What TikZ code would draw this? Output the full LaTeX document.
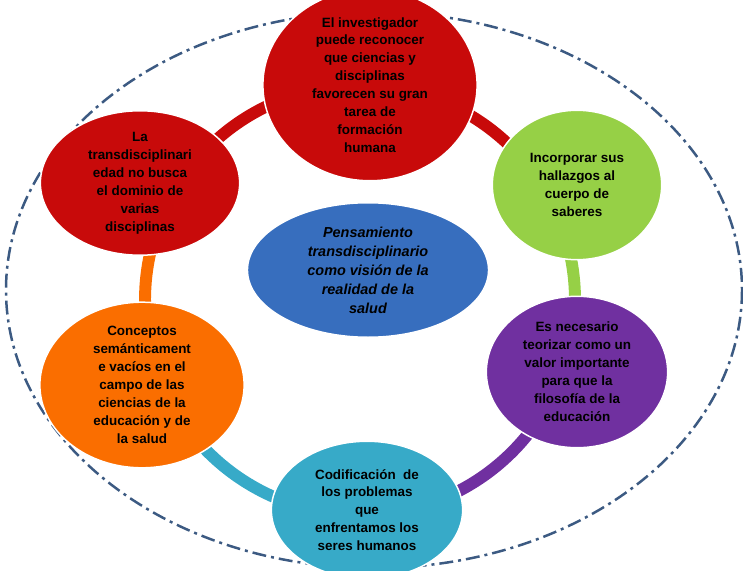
\documentclass[tikz,border=0pt]{standalone}
\usepackage{fontspec}
\setmainfont{Liberation Sans}
\usetikzlibrary{shapes.geometric}
\definecolor{rojo}{RGB}{200,10,10}
\definecolor{verde}{RGB}{150,208,70}
\definecolor{morado}{RGB}{112,48,160}
\definecolor{turquesa}{RGB}{55,170,200}
\definecolor{naranja}{RGB}{250,110,0}
\definecolor{azul}{RGB}{55,110,190}
\definecolor{marco}{RGB}{60,90,130}
\tikzset{
  burbuja/.style={ellipse, draw=white, line width=1.5pt, inner sep=0pt, align=center,
    font=\fontsize{13.5}{18}\selectfont\bfseries},
}
\begin{document}
\begin{tikzpicture}[x=1bp,y=-1bp]
        \useasboundingbox (0,0) rectangle (743,571);
        \draw[marco, line width=2.5pt, dash pattern=on 14pt off 5pt on 3pt off 5pt] (374,290) ellipse[x radius=368, y radius=278];
        \coordinate (c) at (360,300);
        \draw[rojo, line width=12pt] (c) ++(-152:215) arc[start angle=-152, end angle=-28, radius=215];
        \draw[verde, line width=12pt] (c) ++(-28:215) arc[start angle=-28, end angle=18, radius=215];
        \draw[morado, line width=12pt] (c) ++(18:215) arc[start angle=18, end angle=88, radius=215];
        \draw[turquesa, line width=12pt] (c) ++(88:215) arc[start angle=88, end angle=159, radius=215];
        \draw[naranja, line width=12pt] (c) ++(159:215) arc[start angle=159, end angle=208, radius=215];
        \node[burbuja, fill=rojo, minimum width=215, minimum height=160] (investigador) at (370,85)
          {El investigador\\puede reconocer\\que ciencias y\\disciplinas\\favorecen su gran\\tarea de\\formación\\humana};
        \node[burbuja, fill=verde, minimum width=170, minimum height=150] (hallazgos) at (577,185)
          {Incorporar sus\\hallazgos al\\cuerpo de\\saberes};
        \node[burbuja, fill=morado, minimum width=182, minimum height=152] (teorizar) at (577,372)
          {Es necesario\\teorizar como un\\valor importante\\para que la\\filosofía de la\\educación};
        \node[burbuja, fill=turquesa, minimum width=192, minimum height=138] (codificacion) at (367,510)
          {Codificación\ \ de\\los problemas\\que\\enfrentamos los\\seres humanos};
        \node[burbuja, fill=naranja, minimum width=205, minimum height=152] (conceptos) at (142,385)
          {Conceptos\\semánticament\\e vacíos en el\\campo de las\\ciencias de la\\educación y de\\la salud};
        \node[burbuja, fill=rojo, minimum width=200, minimum height=145] (transdisciplina) at (140,183)
          {La\\transdisciplinari\\edad no busca\\el dominio de\\varias\\disciplinas};
        \node[burbuja, fill=azul, minimum width=242, minimum height=135, font=\fontsize{14.5}{19}\selectfont\bfseries\itshape] (pensamiento) at (368,270)
          {Pensamiento\\transdisciplinario\\como visión de la\\realidad de la\\salud};
\end{tikzpicture}
\end{document}
